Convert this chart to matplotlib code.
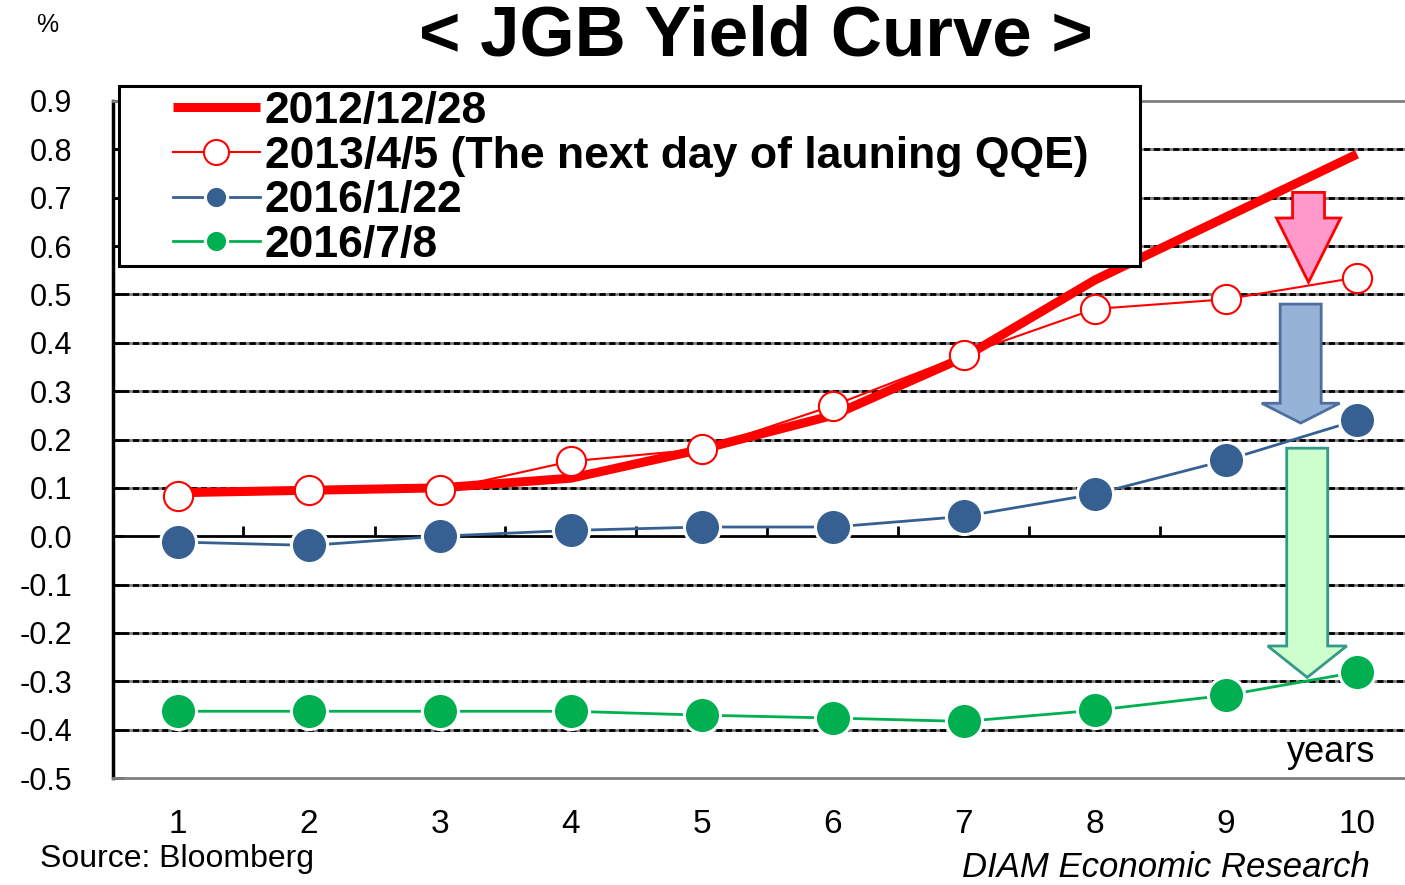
import numpy as np
import matplotlib
matplotlib.use('Agg')
import matplotlib.pyplot as plt
from matplotlib.patches import FancyArrow, Rectangle

plt.rcParams['font.family'] = ['Liberation Sans', 'DejaVu Sans']

# data
years = list(range(1, 11))
labels = ['2012/12/28', '2013/4/5 (The next day of launing QQE)', '2016/1/22', '2016/7/8']
y2012 = [0.09, 0.095, 0.10, 0.12, 0.18, 0.25, 0.37, 0.53, 0.66, 0.79]
y2013 = [0.083, 0.095, 0.095, 0.155, 0.18, 0.27, 0.375, 0.47, 0.49, 0.535]
y2016a = [-0.012, -0.019, 0.0, 0.012, 0.019, 0.019, 0.041, 0.087, 0.157, 0.24]
y2016b = [-0.362, -0.362, -0.362, -0.362, -0.37, -0.376, -0.383, -0.36, -0.329, -0.281]
yticks = np.arange(-5, 10) / 10

W, H = 1405, 885
fig = plt.figure(figsize=(W / 100, H / 100), dpi=100)
ax = fig.add_axes([112.5 / W, 1 - 778 / H, 1310 / W, 677 / H])

# dashed grid (black dashes over grey)
grid_y = [v for v in yticks if v not in (-0.5, 0.0, 0.9)]
ax.hlines(grid_y, 0.5, 10.5, colors='#808080', lw=2, zorder=1)
ax.hlines(grid_y, 0.5, 10.5, colors='black', lw=2, linestyles=(0, (2.2, 1.3)), zorder=1.1)
ax.axhline(0, color='black', lw=2, zorder=1.2)
ax.vlines(np.arange(1.5, 10, 1), 0, 0.022, colors='black', lw=2, zorder=1.2)

# series
l1, = ax.plot(years, y2012, color='red', lw=6.5, solid_capstyle='butt', zorder=3)
l2, = ax.plot(years, y2013, color='red', lw=1.5, marker='o', ms=21, mfc='white',
              mec='red', mew=1.5, zorder=4)
l3, = ax.plot(years, y2016a, color='#376092', lw=2, marker='o', ms=26, mfc='#376092',
              mec='white', mew=2.2, zorder=4)
l4, = ax.plot(years, y2016b, color='#00B050', lw=2, marker='o', ms=26, mfc='#00B050',
              mec='white', mew=2.2, zorder=4)

# down arrows
ax.add_patch(FancyArrow(9.63, 0.711, 0, -0.186, width=0.244, head_width=0.49, head_length=0.133,
                        length_includes_head=True, fc='#FF99CC', ec='red', lw=2, zorder=5))
ax.add_patch(FancyArrow(9.57, 0.48, 0, -0.246, width=0.313, head_width=0.595, head_length=0.041,
                        length_includes_head=True, fc='#95B3D7', ec='#4F6E9F', lw=2, zorder=5))
ax.add_patch(FancyArrow(9.62, 0.182, 0, -0.474, width=0.313, head_width=0.603, head_length=0.065,
                        length_includes_head=True, fc='#CCFFCC', ec='#339988', lw=2, zorder=5))

ax.set_xlim(0.5, 10.5)
ax.set_ylim(-0.5, 0.9)
ax.set_yticks(yticks)
ax.set_yticklabels([f'{v:.1f}' for v in yticks])
ax.set_xticks(years)
ax.set_xticklabels([str(y) for y in years])
ax.tick_params(axis='y', direction='in', length=8, width=2, labelsize=22, pad=29)
ax.tick_params(axis='x', length=0, labelsize=24, pad=22)
ax.spines['left'].set_color('black')
ax.spines['left'].set_linewidth(2.5)
for s in ['top', 'bottom']:
    ax.spines[s].set_color('#808080')
    ax.spines[s].set_linewidth(2)
ax.spines['right'].set_visible(False)

# legend box + legend
fig.add_artist(Rectangle((119 / W, 1 - 266 / H), (1140 - 119) / W, (266 - 86) / H,
                         transform=fig.transFigure, fc='white', ec='black', lw=2.2, zorder=5))
leg = fig.legend([l1, l2, l3, l4], labels, loc='upper left',
                 bbox_to_anchor=(173 / W, 1 - 91 / H), frameon=False,
                 prop={'weight': 'bold', 'size': 32}, handlelength=1.95, handletextpad=0.12,
                 borderpad=0, borderaxespad=0, labelspacing=0.08)
leg.set_zorder(6)
hs = leg.legend_handles
hs[1].set_markersize(18)
hs[2].set_markersize(16)
hs[3].set_markersize(16)

fig.text(756 / W, 1 - 38 / H, '< JGB Yield Curve >', ha='center', va='center',
         fontsize=51, weight='bold')
fig.text(47 / W, 1 - 25 / H, '%', ha='center', va='center', fontsize=18)
fig.text(1375 / W, 1 - 752 / H, 'years', ha='right', va='center', fontsize=26)
fig.text(40 / W, 1 - 859 / H, 'Source: Bloomberg', va='center', fontsize=23)
fig.text(1370 / W, 1 - 877 / H, 'DIAM Economic Research', ha='right', va='baseline',
         fontsize=25, style='italic')

fig.savefig('out.png', dpi=100)
